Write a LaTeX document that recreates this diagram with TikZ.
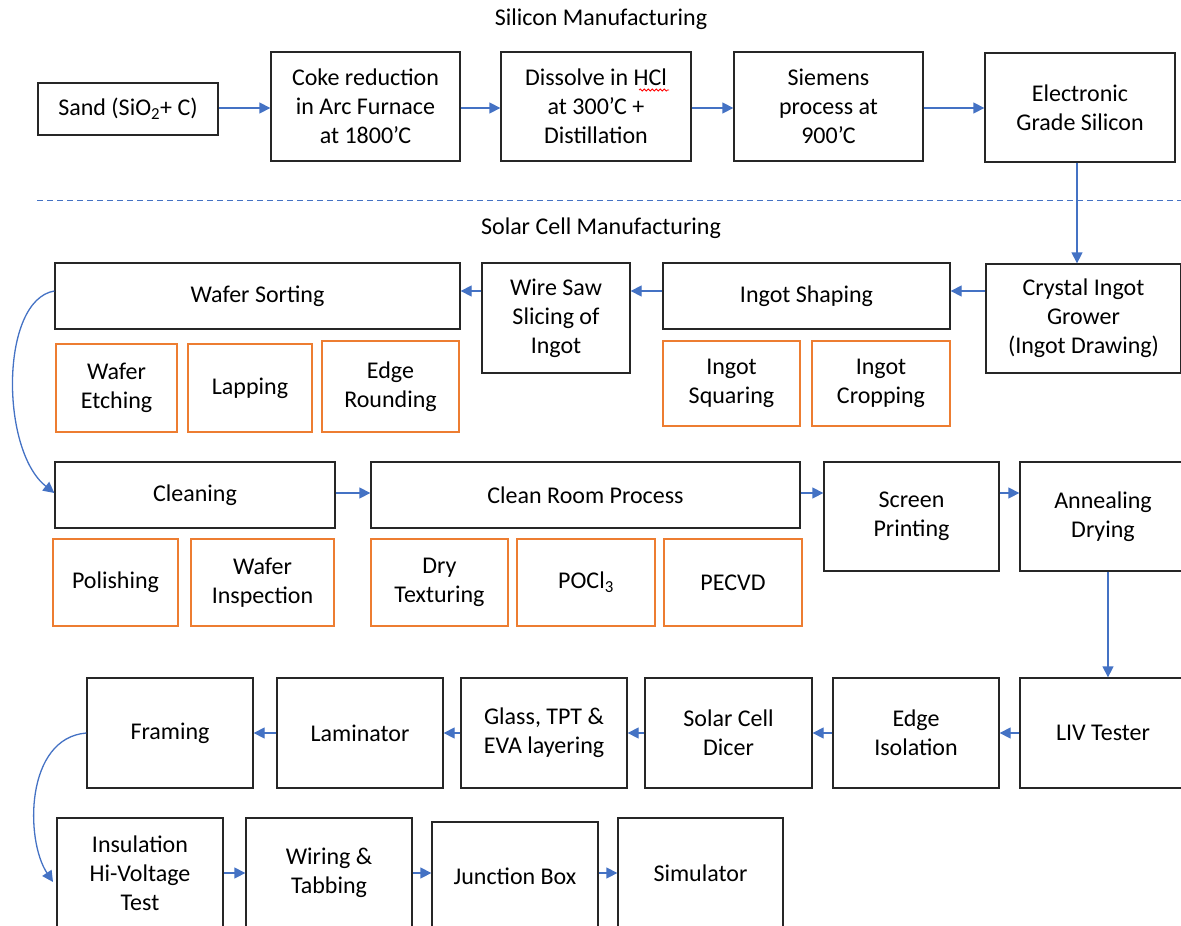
\documentclass[tikz,border=0pt]{standalone}
\usepackage{fontspec}
\setmainfont{Carlito}
\usetikzlibrary{arrows.meta,decorations.pathmorphing}
\definecolor{arrblue}{HTML}{4472C4}
\definecolor{orng}{HTML}{ED7D31}
\definecolor{edgec}{HTML}{262626}
\newcommand\pbox[7]{\node[#2, minimum width={(#5-#3)*1pt}, minimum height={(#6-#4)*1pt}] (#1) at ({(#3+#5)/2},{(#4+#6)/2}) {#7};}
\begin{document}
\begin{tikzpicture}[x=1pt,y=-1pt,
  box/.style={draw=edgec, line width=1.3pt, inner sep=0pt, align=center, font=\fontsize{24}{29}\selectfont},
  sub/.style={box, draw=orng},
  arr/.style={draw=arrblue, line width=1.3pt, -{Triangle[length=11pt,width=11pt]}},
  lbl/.style={inner sep=0pt, font=\fontsize{24}{29}\selectfont}]
\useasboundingbox (0,0) rectangle (1181,926);
\clip (0,0) rectangle (1181,926);

% titles
\node[lbl] (t1) at (601,19) {Silicon Manufacturing};
\node[lbl] (t2) at (601,228) {Solar Cell Manufacturing};

% dashed separator
\coordinate (dl) at (37,200);
\coordinate (dr) at (1181,200);
\draw[arrblue, line width=1pt, dash pattern=on 6pt off 4pt] (dl) -- (dr);

% row 1
\pbox{sand}{box}{38}{83}{218}{135}{Sand (SiO\textsubscript{2}+ C)}
\pbox{coke}{box}{271}{52}{460}{161}{Coke reduction\\in Arc Furnace\\at 1800’C}
\pbox{diss}{box}{501}{52}{691}{161}{Dissolve in HCl\\at 300’C +\\Distillation}
\pbox{siem}{box}{734}{52}{923}{161}{Siemens\\process at\\900’C}
\pbox{elec}{box}{985}{53}{1175}{162}{Electronic\\Grade Silicon}
\coordinate (hcl1) at (639,90);
\coordinate (hcl2) at (669,90);
\draw[red, line width=0.8pt, decorate, decoration={snake, amplitude=1pt, segment length=4pt}] (hcl1) -- (hcl2);

% row 2
\pbox{crys}{box}{986}{264}{1181}{373}{Crystal Ingot\\Grower\\(Ingot Drawing)}
\pbox{ishape}{box}{663}{263}{950}{329}{Ingot Shaping}
\pbox{isq}{sub}{663}{341}{800}{426}{Ingot\\Squaring}
\pbox{icrop}{sub}{812}{341}{950}{426}{Ingot\\Cropping}
\pbox{wsaw}{box}{482}{263}{630}{373}{Wire Saw\\Slicing of\\Ingot}
\pbox{wsort}{box}{55}{263}{460}{329}{Wafer Sorting}
\pbox{wetch}{sub}{56}{344}{177}{432}{Wafer\\Etching}
\pbox{lap}{sub}{188}{344}{312}{432}{Lapping}
\pbox{eround}{sub}{322}{341}{459}{432}{Edge\\Rounding}

% row 3
\pbox{clean}{box}{55}{462}{335}{528}{Cleaning}
\pbox{croom}{box}{371}{462}{800}{528}{Clean Room Process}
\pbox{polish}{sub}{53}{539}{178}{626}{Polishing}
\pbox{winsp}{sub}{191}{539}{334}{626}{Wafer\\Inspection}
\pbox{dry}{sub}{371}{539}{508}{626}{Dry\\Texturing}
\pbox{pocl}{sub}{517}{539}{655}{626}{POCl\textsubscript{3}}
\pbox{pecvd}{sub}{664}{539}{802}{626}{PECVD}
\pbox{screen}{box}{824}{462}{999}{571}{Screen\\Printing}
\pbox{anneal}{box}{1020}{462}{1186}{571}{Annealing\\Drying}

% row 4
\pbox{liv}{box}{1020}{678}{1186}{788}{LIV Tester}
\pbox{eiso}{box}{833}{678}{999}{788}{Edge\\Isolation}
\pbox{dicer}{box}{645}{678}{812}{788}{Solar Cell\\Dicer}
\pbox{glass}{box}{461}{678}{627}{788}{Glass, TPT \&\\EVA layering}
\pbox{lam}{box}{277}{678}{443}{788}{Laminator}
\pbox{frame}{box}{87}{678}{253}{788}{Framing}

% row 5
\pbox{ins}{box}{57}{818}{223}{928}{Insulation\\Hi-Voltage\\Test}
\pbox{wire}{box}{246}{818}{412}{928}{Wiring \&\\Tabbing}
\pbox{jbox}{box}{432}{822}{598}{930}{Junction Box}
\pbox{sim}{box}{618}{818}{783}{928}{Simulator}

% helper coordinates
\coordinate (r1y) at (0,108);
\coordinate (r2y) at (0,291);
\coordinate (r3y) at (0,493);
\coordinate (r5y) at (0,873);
\coordinate (vx1) at (1077,0);
\coordinate (vx2) at (1108,0);
\coordinate (insin) at (53,882);

% connectors
\draw[arr] (sand.east |- r1y) -- (coke.west |- r1y);
\draw[arr] (coke.east |- r1y) -- (diss.west |- r1y);
\draw[arr] (diss.east |- r1y) -- (siem.west |- r1y);
\draw[arr] (siem.east |- r1y) -- (elec.west |- r1y);
\draw[arr] (elec.south -| vx1) -- (crys.north -| vx1);
\draw[arr] (crys.west |- r2y) -- (ishape.east |- r2y);
\draw[arr] (ishape.west |- r2y) -- (wsaw.east |- r2y);
\draw[arr] (wsaw.west |- r2y) -- (wsort.east |- r2y);
\draw[arr] (wsort.west |- r2y) .. controls (0,300) and (0,450) .. (clean.west |- r3y);
\draw[arr] (clean.east |- r3y) -- (croom.west |- r3y);
\draw[arr] (croom.east |- r3y) -- (screen.west |- r3y);
\draw[arr] (screen.east |- r3y) -- (anneal.west |- r3y);
\draw[arr] (anneal.south -| vx2) -- (liv.north -| vx2);
\draw[arr] (liv.west) -- (eiso.east);
\draw[arr] (eiso.west) -- (dicer.east);
\draw[arr] (dicer.west) -- (glass.east);
\draw[arr] (glass.west) -- (lam.east);
\draw[arr] (lam.west) -- (frame.east);
\draw[arr] (frame.west) .. controls (25,738) and (25,840) .. (insin);
\draw[arr] (ins.east |- r5y) -- (wire.west |- r5y);
\draw[arr] (wire.east |- r5y) -- (jbox.west |- r5y);
\draw[arr] (jbox.east |- r5y) -- (sim.west |- r5y);
\end{tikzpicture}
\end{document}
